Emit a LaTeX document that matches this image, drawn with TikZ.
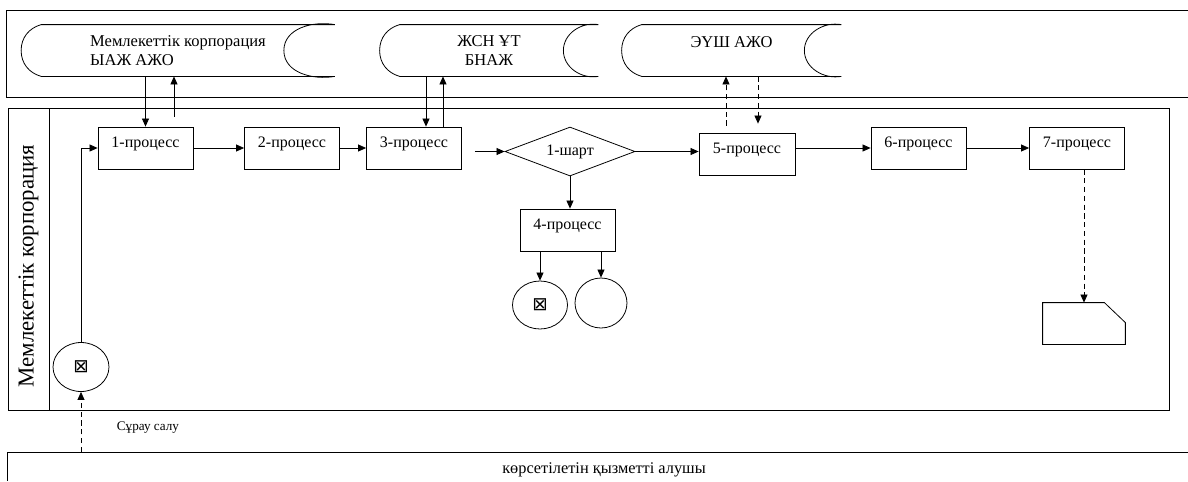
\documentclass[tikz,border=0pt]{standalone}
\usepackage{fontspec}
\setmainfont{Liberation Serif}
\newfontfamily\symfont{DejaVu Sans}
\usetikzlibrary{arrows.meta,calc,shapes.geometric}

% stored data outline round a named node, #2 = depth of the right side
\newcommand\dbshape[2]{%
  \draw ([xshift=0.4cm]#1.north west) to[out=196,in=90] (#1.west)
    to[out=-90,in=164] ([xshift=0.4cm]#1.south west) -- (#1.south east)
    to[out=190,in=-90] ([xshift=-#2]#1.east) to[out=90,in=170] (#1.north east) -- cycle;}

\begin{document}
\begin{tikzpicture}[x=0.02cm,y=-0.02cm,line width=0.45pt,
  >={Triangle[length=4.6pt,width=4pt]},
  proc/.style={draw,minimum width=1.9cm,minimum height=0.84cm,inner sep=1pt,
    font=\fontsize{9.1}{11}\selectfont,text height=6.5pt,text depth=7.4pt},
  cond/.style={draw,diamond,aspect=2.6,minimum width=2.6cm,minimum height=0.98cm,
    inner sep=0pt,font=\fontsize{9.1}{11}\selectfont},
  evt/.style={draw,ellipse,inner sep=0pt,font=\symfont\fontsize{10.5}{11}\selectfont},
  db/.style={minimum height=1.02cm,inner sep=0pt,align=center,
    font=\fontsize{9.4}{11}\selectfont},
  doc/.style={minimum width=1.64cm,minimum height=0.82cm,inner sep=0pt},
  dsh/.style={dash pattern=on 3pt off 2pt}]
\useasboundingbox (0,0) rectangle (1188,481);

% lanes
\draw (1188,10) -- (6,10) -- (6,97) -- (1188,97);
\draw (8,108) rectangle (1169,410);
\draw (49,108) -- (49,410);
\draw (1188,452) -- (7,452) -- (7,481);
\node[rotate=90,font=\fontsize{13}{15}\selectfont] (lane) at (28.5,266) {Мемлекеттік корпорация};
\node[font=\fontsize{9.3}{11}\selectfont] (recv) at (604,470) {көрсетілетін қызметті алушы};

% information systems
\node[db,minimum width=6.26cm,align=left] (db1) at (178,50.5) {Мемлекеттік корпорация\\ЫАЖ АЖО};
\node[db,minimum width=4.36cm] (db2) at (489,50.5) {ЖСН ҰТ\\БНАЖ};
\node[db,minimum width=4.38cm,
  label={[font=\fontsize{9.4}{11}\selectfont,yshift=0.17cm]center:ЭҮШ АЖО}] (db3) at (731.5,50.5) {};
\dbshape{db1}{1.02cm}
\dbshape{db2}{0.7cm}
\dbshape{db3}{0.74cm}

% steps
\node[proc] (p1) at (145.5,148) {1-процесс};
\node[proc] (p2) at (292,148) {2-процесс};
\node[proc] (p3) at (414,148) {3-процесс};
\node[cond] (c1) at (570,151.5) {1-шарт};
\node[proc,minimum width=1.92cm] (p5) at (747,154) {5-процесс};
\node[proc] (p6) at (918.5,148) {6-процесс};
\node[proc] (p7) at (1077,148) {7-процесс};
\node[proc] (p4) at (567.5,230) {4-процесс};
\node[evt,minimum width=1.1cm,minimum height=0.96cm] (e1) at (540,305) {⊠};
\node[evt,minimum width=1.04cm,minimum height=1cm] (e2) at (601,303) {};
\node[evt,minimum width=1.12cm,minimum height=0.98cm] (s0) at (81,367) {⊠};
\node[doc] (res) at (1084,323.5) {};
\draw (res.south west) -- (res.north west) -- ([xshift=-0.42cm]res.north east)
  -- ([yshift=-0.4cm]res.north east) -- (res.south east) -- cycle;

% flow
\draw[->] (s0.north) |- (p1.west);
\draw[->] (p1) -- (p2);
\draw[->] (p2) -- (p3);
\draw[->,shorten <=0.26cm] (p3.east |- c1.west) -- (c1.west);
\draw[->] (c1.east) -- (c1.east -| p5.west);
\draw[->] (p5.east |- p6.west) -- (p6.west);
\draw[->] (p6) -- (p7);
\draw[->] (c1.south) -- (c1.south |- p4.north);
\draw[->] (e1.north |- p4.south) -- (e1.north);
\draw[->] (e2.north |- p4.south) -- (e2.north);
\draw[dsh,->] (res.north |- p7.south) -- (res.north);

% exchange with the systems
\draw[->] (p1.north |- db1.south) -- (p1.north);
\draw[->,shorten <=0.2cm] ([xshift=0.57cm]p1.north) -- ([xshift=0.57cm]p1.north |- db1.south);
\draw[->] ([xshift=0.24cm]p3.north |- db2.south) -- ([xshift=0.24cm]p3.north);
\draw[->] ([xshift=0.58cm]p3.north) -- ([xshift=0.58cm]p3.north |- db2.south);
\draw[dsh,->,shorten <=0.14cm] ([xshift=-0.42cm]p5.north) -- ([xshift=-0.42cm]p5.north |- db3.south);
\draw[dsh,->,shorten >=0.18cm] ([xshift=0.22cm]p5.north |- db3.south) -- ([xshift=0.22cm]p5.north);

% request
\coordinate (rq) at (81,452);
\draw[dsh,->] (rq) -- (s0.south);
\node[font=\fontsize{7.5}{9}\selectfont] (req) at (148,428) {Сұрау салу};
\end{tikzpicture}
\end{document}
